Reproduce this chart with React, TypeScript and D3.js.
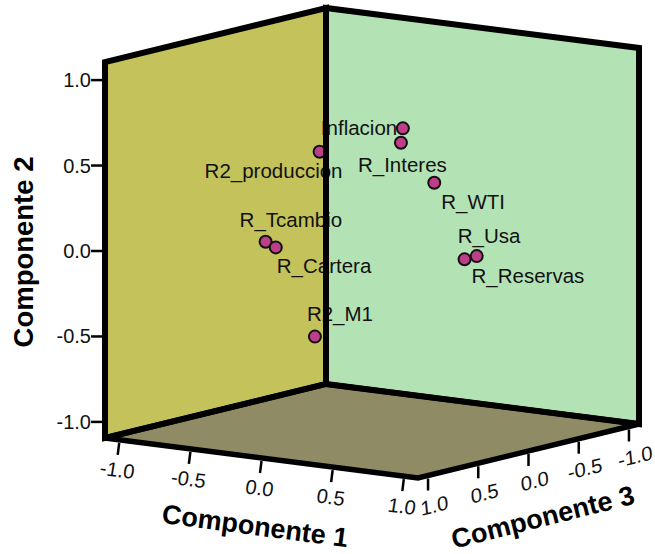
import React from "react";
import * as d3 from "d3";

const names = ["Inflacion", "R_Interes", "R2_produccion", "R_WTI", "R_Usa", "R_Reservas", "R_Tcambio", "R_Cartera", "R2_M1"];
const comp1 = [0.45, 0.5, -0.1, 0.6, 0.75, 0.7, -0.55, -0.5, -0.2];
const comp2 = [0.766, 0.70, 0.578, 0.449, 0.006, -0.011, -0.011, -0.043, -0.528];
const comp3 = [0.33, 0.42, 0.38, 0.23, 0.02, 0.07, 0.28, 0.25, 0.285];
const labelDx = [-82, -43, -115, 7, -19, 7, -26, 1, -8];
const labelDy = [7, 29, 26, 26, -13, 24, -15, 26, -16];
const ticks = [-1, -0.5, 0, 0.5, 1];
const tickLabels = ["-1.0", "-0.5", "0.0", "0.5", "1.0"];
const domain: [number, number] = [-1.1, 1.1];

const c1x = d3.scaleLinear().domain(domain).range([0, 313]);
const c1y = d3.scaleLinear().domain(domain).range([0, 40]);
const c3x = d3.scaleLinear().domain(domain).range([221, 0]);
const c3y = d3.scaleLinear().domain(domain).range([-54, 0]);
const c2y = d3.scaleLinear().domain(domain).range([0, -376]);

const project = (a: number, b: number, c: number): [number, number] => [
  105 + c1x(a) + c3x(c),
  438 + c1y(a) + c3y(c) + c2y(b),
];
const poly = (pts: [number, number][]) => d3.line()(pts) + "Z";

const LO = domain[0];
const HI = domain[1];
const FONT = "'Liberation Sans', Arial, sans-serif";

export default function App() {
  const leftWall = [project(LO, LO, HI), project(LO, HI, HI), project(LO, HI, LO), project(LO, LO, LO)];
  const rightWall = [project(LO, LO, LO), project(LO, HI, LO), project(HI, HI, LO), project(HI, LO, LO)];
  const floor = [project(LO, LO, HI), project(LO, LO, LO), project(HI, LO, LO), project(HI, LO, HI)];
  const back = [project(LO, LO, LO), project(LO, HI, LO)];
  return (
    <svg width={655} height={554} style={{ position: "absolute", left: 0, top: 0, background: "#fff" }} fontFamily={FONT}>
      <path d={poly(leftWall)} fill="#c4c25b" />
      <path d={poly(rightWall)} fill="#b3e2b5" />
      <path d={poly(floor)} fill="#8f8b65" />
      {names.map((n, i) => {
        const [x, y] = project(comp1[i], comp2[i], comp3[i]);
        return (
          <g key={n}>
            <circle cx={x} cy={y} r={6} fill="#bc3f88" stroke="#111" strokeWidth={2} />
            <text x={x + labelDx[i]} y={y + labelDy[i]} fontSize={20.5} fill="#111">{n}</text>
          </g>
        );
      })}
      <g fill="none" stroke="#000" strokeWidth={6} strokeLinejoin="miter">
        <path d={poly(leftWall)} />
        <path d={poly(rightWall)} />
        <path d={poly(floor)} strokeWidth={5.5} />
        <path d={d3.line()(back)!} />
      </g>
      {ticks.map((t, i) => {
        const [x0, y0] = project(LO, t, HI);
        return (
          <g key={"y" + t}>
            <line x1={x0 - 14} x2={x0} y1={y0 + 1} y2={y0 + 1} stroke="#000" strokeWidth={2.5} />
            <text x={x0 - 14} y={y0 + 8} textAnchor="end" fontSize={20} fill="#111">{tickLabels[i]}</text>
          </g>
        );
      })}
      {ticks.map((t, i) => {
        const [x0, y0] = project(t, LO, HI);
        return (
          <g key={"a" + t}>
            <line x1={x0} y1={y0 + 3} x2={x0 - 1.5} y2={y0 + 15} stroke="#000" strokeWidth={2.5} />
            <text transform={`matrix(1,0.128,-0.16,1,${x0 - 3},${y0 + 37})`} textAnchor="middle" fontSize={20} fill="#111">{tickLabels[i]}</text>
          </g>
        );
      })}
      {ticks.map((t, i) => {
        const [x0, y0] = project(HI, LO, t);
        return (
          <g key={"c" + t}>
            <line x1={x0} y1={y0 + 3} x2={x0} y2={y0 + 15} stroke="#000" strokeWidth={2.5} />
            <text transform={`matrix(1,-0.25,0.1,1,${x0 + 7},${y0 + 37})`} textAnchor="middle" fontSize={20} fill="#111">{tickLabels[i]}</text>
          </g>
        );
      })}
      <text transform="translate(33,252) rotate(-90)" textAnchor="middle" fontSize={27.5} fontWeight="bold" fill="#000">Componente 2</text>
      <text transform="translate(254,535) rotate(7.5)" textAnchor="middle" fontSize={27} fontWeight="bold" fill="#000">Componente 1</text>
      <text transform="translate(545,526) rotate(-14)" textAnchor="middle" fontSize={27} fontWeight="bold" fill="#000">Componente 3</text>
    </svg>
  );
}
